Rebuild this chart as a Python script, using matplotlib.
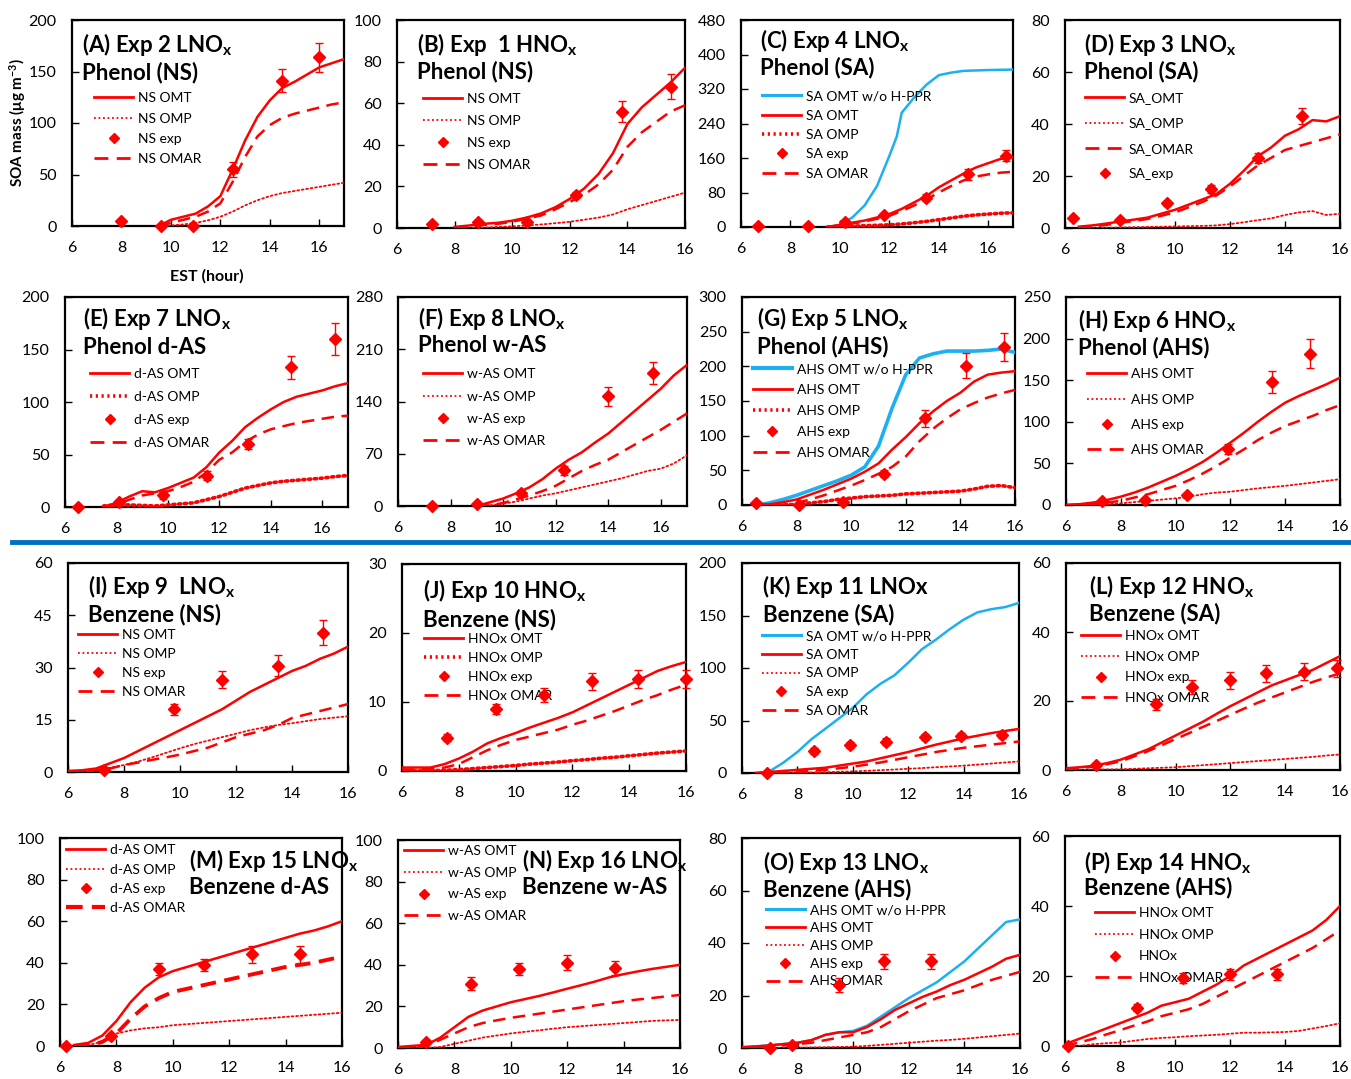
"""Sixteen-panel SOA mass time series: model OMT/OMP/OMAR vs chamber data."""
import matplotlib
matplotlib.use("Agg")
import matplotlib.pyplot as plt
from matplotlib.lines import Line2D

plt.rcParams["font.family"] = ["Lato", "DejaVu Sans"]
plt.rcParams["mathtext.fontset"] = "custom"
plt.rcParams["mathtext.rm"] = "Lato"
plt.rcParams["mathtext.bf"] = "Lato:bold"
plt.rcParams["mathtext.default"] = "regular"

RED = "#ff0000"
BLUE = "#1cb0f0"
SEP = "#0070c0"
W, H = 1351, 1079

# ---- model time grids (EST hour) ----
T6_16 = [6.0, 6.5, 7.0, 7.5, 8.0, 8.5, 9.0, 9.5, 10.0, 10.5, 11.0, 11.5,
         12.0, 12.5, 13.0, 13.5, 14.0, 14.5, 15.0, 15.5, 16.0]
T65_16 = [6.5, 7.0, 7.5, 8.0, 8.5, 9.0, 9.5, 10.0, 10.5, 11.0, 11.5,
          12.0, 12.5, 13.0, 13.5, 14.0, 14.5, 15.0, 15.5, 16.0]
T8_16 = [8.0, 8.5, 9.0, 9.5, 10.0, 10.5, 11.0, 11.5, 12.0, 12.5, 13.0,
         13.5, 14.0, 14.5, 15.0, 15.5, 16.0]
T95_17 = [9.5, 10.0, 10.5, 11.0, 11.5, 12.0, 12.5, 13.0, 13.5, 14.0, 14.5,
          15.0, 15.5, 16.0, 16.5, 17.0]
T75_17 = [7.5, 8.0, 8.5, 9.0, 9.5, 10.0, 10.5, 11.0, 11.5, 12.0, 12.5, 13.0,
          13.5, 14.0, 14.5, 15.0, 15.5, 16.0, 16.5, 17.0]
T9_17 = [9.0, 9.5, 10.0, 10.5, 11.0, 11.5, 12.0, 12.5, 13.0, 13.5, 14.0,
         14.5, 15.0, 15.5, 16.0, 16.5, 17.0]

# ---- (A) Exp 2, phenol NS ----
a_omt = [0, 6, 9, 12, 19, 29, 55, 83, 106, 122, 134, 140, 147, 154, 158, 162]
a_omar = [0, 3, 6, 9, 14, 22, 43, 67, 87, 98, 105, 109, 112, 115, 118, 120]
a_omp = [0, 0.5, 1.5, 3, 5.5, 9, 14, 20, 25, 29, 32, 34, 36, 38, 40, 42]
a_et = [8.0, 9.6, 10.9, 12.5, 14.5, 16.0]
a_ey = [5, 0, 0, 55, 141, 164]
a_ee = [0, 0, 0, 7, 11, 14]

# ---- (B) Exp 1, phenol NS ----
b_omt = [0.5, 1.2, 2, 2.5, 3.5, 5, 7, 10, 14, 19, 26, 36, 50, 58, 64, 70, 77]
b_omar = [0.3, 0.8, 1.5, 2, 3, 4.5, 6, 9, 12.5, 16, 21, 28, 39, 46, 51, 56, 59]
b_omp = [0, 0, 0.2, 0.5, 0.8, 1.2, 1.7, 2.3, 3, 4, 5, 6.5, 9, 11, 13, 15, 17]
b_et = [7.2, 8.8, 10.5, 12.2, 13.8, 15.5]
b_ey = [2, 3, 3, 16, 56, 68]
b_ee = [0, 1, 1, 1.5, 5, 6]

# ---- (C) Exp 4, phenol SA ----
c_omt = [0, 5, 10, 15, 22, 30, 42, 57, 72, 92, 108, 124, 138, 148, 158, 162]
c_omar = [0, 3, 8, 13, 19, 26, 37, 50, 64, 80, 95, 108, 117, 122, 126, 128]
c_omp = [0, 1, 2, 3, 4, 5, 7, 10, 13, 17, 21, 25, 28, 30, 32, 33]
c_blue_t = [9.5, 10.0, 10.5, 11.0, 11.5, 12.0, 12.3, 12.5, 13.0, 13.5, 14.0,
            14.5, 15.0, 16.0, 17.0]
c_blue = [0, 5, 22, 50, 95, 165, 210, 265, 300, 330, 352, 358, 362, 364, 365]
c_et = [6.7, 8.7, 10.2, 11.8, 13.5, 15.2, 16.7]
c_ey = [2, 2, 12, 28, 68, 122, 165]
c_ee = [0, 0, 3, 5, 8, 12, 13]

# ---- (D) Exp 3, phenol SA ----
d_omt = [0.5, 1, 1.7, 2.5, 3.2, 4, 5.5, 7, 9, 11, 13, 17, 22, 27.5, 31, 35.5,
         38, 41.5, 41, 43]
d_omar = [0.3, 0.6, 1.2, 2, 2.7, 3.5, 4.7, 6, 8, 10, 12.5, 16, 20, 24, 27, 30,
          31.5, 33, 34.5, 36]
d_omp = [0, 0, 0.1, 0.2, 0.3, 0.4, 0.5, 0.6, 0.7, 0.8, 1, 1.5, 2.2, 3, 3.7, 5,
         6, 6.5, 5, 5.5]
d_et = [6.3, 8.0, 9.7, 11.3, 13.0, 14.6]
d_ey = [4, 3, 9.5, 15, 27, 43]
d_ee = [0.5, 0.5, 1, 1.5, 2, 3]

# ---- (E) Exp 7, phenol d-AS ----
e_omt = [0, 4, 10, 15, 14, 18, 23, 28, 38, 52, 63, 76, 85, 93, 100, 105, 108,
         111, 115, 118]
e_omar = [0, 2, 7, 11, 13, 15, 19, 24, 33, 45, 52, 62, 69, 74, 77, 80, 82, 84,
          86, 87]
e_omp = [1, 2, 2, 1.5, 1, 2, 3, 4, 7, 10, 14, 18, 20.5, 23, 24.5, 25.5, 26.5,
         27.5, 29, 30]
e_et = [6.5, 8.1, 9.8, 11.5, 13.1, 14.8, 16.5]
e_ey = [0, 5, 11, 30, 60, 133, 160]
e_ee = [0, 2, 3, 4, 5, 11, 15]

# ---- (F) Exp 8, phenol w-AS ----
f_omt = [0, 5, 10, 17, 25, 36, 50, 62, 72, 85, 97, 112, 127, 142, 157, 175, 189]
f_omar = [0, 1, 4, 9, 14, 20, 27, 37, 47, 55, 62, 72, 82, 92, 102, 113, 124]
f_omp = [0, 1, 3, 6, 10, 14, 17, 21, 25, 29, 33, 37, 42, 47, 50, 57, 68]
f_et = [7.3, 9.0, 10.7, 12.3, 14.0, 15.7]
f_ey = [0, 3, 18, 48, 147, 178]
f_ee = [0, 2, 4, 6, 13, 15]

# ---- (G) Exp 5, phenol AHS ----
g_blue = [0, 3, 8, 14, 21, 28, 35, 43, 55, 85, 140, 188, 212, 218, 222, 222,
          222, 223, 225, 220]
g_omt = [0, 1, 4, 8, 15, 22, 30, 38, 48, 60, 80, 98, 118, 135, 150, 162, 178,
         188, 191, 193]
g_omar = [0, 0, 0, 3, 8, 14, 21, 28, 36, 45, 55, 70, 92, 110, 125, 138, 147,
          155, 161, 166]
g_omp = [0, 0, 0, 1, 3, 5, 8, 10, 12, 13, 14, 16, 17, 18, 19, 20, 23, 27, 28, 25]
g_et = [6.5, 8.1, 9.7, 11.2, 12.7, 14.2, 15.6]
g_ey = [3, 0, 5, 45, 125, 201, 228]
g_ee = [2, 2, 4, 5, 12, 18, 20]

# ---- (H) Exp 6, phenol AHS ----
h_omt = [0, 1, 3, 6, 10, 15, 21, 28, 35, 43, 52, 63, 75, 87, 100, 112, 123, 131,
         138, 145, 153]
h_omar = [0, 0.5, 1, 3, 5, 9, 13, 18, 23, 30, 38, 47, 57, 67, 78, 87, 95, 101,
          107, 114, 120]
h_omp = [0, 0, 0.5, 1, 2, 3.5, 5, 6.5, 8, 10, 13, 15, 16, 18, 20, 21.5, 23, 25,
         27, 29, 31]
h_et = [7.3, 8.9, 10.4, 11.9, 13.5, 14.9]
h_ey = [5, 6, 12, 67, 148, 182]
h_ee = [2, 2, 3, 6, 13, 17]

# ---- (I) Exp 9, benzene NS ----
i_omt = [0.3, 0.5, 1, 2.5, 4, 6, 8, 10, 12, 14, 16, 18, 20.5, 23, 25, 27, 29,
         30.5, 32.5, 34, 36]
i_omar = [0, 0, 0.5, 1, 2, 2.7, 3.5, 4.2, 5, 6, 7, 8.5, 10, 11, 12, 13.5, 15.5,
          16.5, 17.5, 18.5, 19.5]
i_omp = [0, 0, 0.5, 1.2, 2, 3, 4.2, 5.5, 6.8, 8, 9, 10, 11, 12, 12.8, 13.5, 14,
         14.6, 15.2, 15.6, 16]
i_et = [7.3, 9.8, 11.5, 13.5, 15.1]
i_ey = [0.5, 18, 26.5, 30.5, 40]
i_ee = [0.5, 1.5, 2.5, 3, 3.5]

# ---- (J) Exp 10, benzene NS ----
j_omt = [0.5, 0.5, 0.5, 1, 1.8, 2.8, 4, 4.8, 5.5, 6.3, 7, 7.7, 8.5, 9.5, 10.5,
         11.5, 12.5, 13.5, 14.5, 15.2, 15.8]
j_omar = [0.2, 0.2, 0.3, 0.5, 1, 2, 3, 3.8, 4.5, 5, 5.5, 6, 6.7, 7.3, 8, 8.7,
          9.5, 10.3, 11, 11.8, 12.5]
j_omp = [0, 0, 0.05, 0.1, 0.2, 0.35, 0.5, 0.65, 0.8, 1, 1.15, 1.3, 1.5, 1.65,
         1.85, 2, 2.2, 2.4, 2.6, 2.75, 2.9]
j_et = [7.6, 9.3, 11.0, 12.7, 14.3, 16.0]
j_ey = [4.8, 9, 11, 13, 13.3, 13.4]
j_ee = [0.5, 0.7, 1, 1.2, 1.3, 1.3]

# ---- (K) Exp 11, benzene SA ----
k_omt = [0, 1, 2, 3, 4, 5, 7, 9, 11, 14, 17, 20, 23.5, 27, 30, 33, 35.5, 38, 40, 42]
k_omar = [0, 0.5, 1, 1.5, 2.2, 3, 4.5, 6, 8, 10, 12.5, 15, 17.5, 20, 22, 24,
          25.5, 27, 28.5, 30]
k_omp = [0, 0, 0.1, 0.2, 0.5, 0.8, 1.1, 1.5, 2.1, 2.7, 3.3, 4, 4.7, 5.5, 6.2, 7,
         8, 9, 10, 11]
k_blue_t = [6.9, 7.5, 8.0, 8.5, 9.0, 9.5, 10.0, 10.5, 11.0, 11.5, 12.0, 12.5,
            13.0, 13.5, 14.0, 14.5, 15.0, 15.5, 16.0]
k_blue = [0, 10, 20, 32, 42, 52, 62, 75, 85, 93, 105, 118, 127, 137, 146, 153,
          156, 158, 162]
k_et = [6.9, 8.6, 9.9, 11.2, 12.6, 13.9, 15.4]
k_ey = [0, 21, 27, 30, 34, 35, 36]
k_ee = [0, 3, 3, 3, 3, 3, 3]

# ---- (L) Exp 12, benzene SA ----
l_omt = [0.5, 0.8, 1.2, 2, 3, 4.5, 6, 8, 10, 12, 14, 16.3, 18.5, 20.5, 22.5,
         24.5, 26, 27.5, 29, 31, 33]
l_omar = [0.3, 0.5, 1, 1.7, 2.5, 4, 5.5, 7.2, 9, 10.7, 12.5, 14.2, 16, 17.8,
          19.5, 21, 22.5, 24, 25.5, 26.8, 28]
l_omp = [0, 0, 0.1, 0.15, 0.2, 0.35, 0.5, 0.65, 0.8, 1.1, 1.4, 1.7, 2, 2.3, 2.6,
         2.9, 3.2, 3.5, 3.8, 4.2, 4.5]
l_et = [7.1, 9.3, 10.6, 12.0, 13.3, 14.7, 15.9]
l_ey = [1.5, 19, 24, 26, 28, 28.5, 29.5]
l_ee = [0.5, 1.5, 2, 2.5, 2.5, 2.5, 2.5]

# ---- (M) Exp 15, benzene d-AS ----
m_omt = [0.5, 1.5, 5, 12, 21, 28, 33, 36, 38, 40, 42, 44, 46, 48, 50, 52, 54,
         55.5, 57.5, 60]
m_omar = [0, 0, 2, 6, 13, 19, 23, 26, 27.5, 29, 30.5, 32, 33.5, 35, 36.5, 38,
          39, 40, 41.5, 43]
m_omp = [0, 0.5, 2, 6, 7.5, 8.5, 9, 10, 10.5, 11, 11.5, 12, 12.5, 13, 13.5, 14,
         14.5, 15, 15.5, 16]
m_et = [6.2, 7.8, 9.5, 11.1, 12.8, 14.5]
m_ey = [0, 5, 37, 39, 44, 44]
m_ee = [0, 1, 3, 3, 4, 4]

# ---- (N) Exp 16, benzene w-AS ----
n_omt = [0.5, 1, 1.5, 5, 10, 15, 18, 20, 22, 23.5, 25, 26.7, 28.5, 30.2, 32, 34,
         35.5, 36.8, 38, 39, 40]
n_omar = [0, 0, 1, 4, 7, 10, 12, 13.3, 14.5, 15.5, 16.5, 17.5, 18.5, 19.5, 20.5,
          21.5, 22.5, 23.3, 24, 24.8, 25.5]
n_omp = [0, 0, 0, 0.5, 2, 3.5, 5, 6, 7, 7.8, 8.5, 9.3, 10, 10.5, 11, 11.5, 12,
         12.5, 13, 13.3, 13.5]
n_et = [7.0, 8.6, 10.3, 12.0, 13.7]
n_ey = [3, 31, 38, 41, 38.5]
n_ee = [1, 3, 3, 3.5, 3.5]

# ---- (O) Exp 13, benzene AHS ----
o_blue = [0.3, 0.6, 1, 1.5, 2, 3, 5, 6, 6.5, 8.5, 12, 15.5, 19, 22, 25, 29, 33,
          38, 43, 48, 49]
o_omt = [0.3, 0.6, 1, 1.5, 2, 3, 5, 6, 6, 8, 11, 14.5, 17, 19.5, 21.5, 24, 26,
         28.5, 31, 34, 35.5]
o_omar = [0, 0.2, 0.5, 1, 1.5, 2, 3, 4, 5, 6, 8, 11, 14, 16.5, 19, 20.5, 22, 24,
          26, 27.5, 29]
o_omp = [0, 0, 0, 0.05, 0.1, 0.2, 0.3, 0.4, 0.5, 0.8, 1.2, 1.6, 2, 2.4, 2.8,
         3.1, 3.5, 4, 4.5, 5, 5.5]
o_et = [7.0, 7.8, 9.5, 11.1, 12.8]
o_ey = [0, 1, 24, 33, 33]
o_ee = [0.5, 0.5, 2.5, 3, 3]

# ---- (P) Exp 14, benzene AHS ----
p_omt = [0.5, 2, 3.5, 5, 6.5, 8, 9.5, 11.5, 12.5, 13.5, 15.5, 17.5, 20, 23, 25,
         27, 29, 31, 33, 36, 40]
p_omar = [0, 1, 2, 3.3, 4.5, 5.8, 7, 8.5, 9.5, 10.5, 12, 14, 16, 18, 20, 22, 24,
          26, 28, 30.5, 33]
p_omp = [0, 0, 0.5, 0.8, 1, 1.5, 2, 2.3, 2.5, 2.8, 3, 3.2, 3.5, 3.8, 3.8, 3.9,
         4, 4.3, 5, 5.7, 6.5]
p_et = [6.1, 8.6, 10.3, 12.0, 13.7]
p_ey = [0, 11, 19.5, 20.5, 20.5]
p_ee = [0.5, 1, 1.5, 1.5, 1.5]

STD = ["omt", "omp", "exp", "omar"]
STD5 = ["blue", "omt", "omp", "exp", "omar"]

def labels(pre, order, sep=" "):
    names = {"blue": "OMT w/o H-PPR", "omt": "OMT", "omp": "OMP", "exp": "exp", "omar": "OMAR"}
    return [f"{pre}{sep}{names[k]}" for k in order]

# box = axes frame in pixels (left, top, right, bottom); tpos = (x, y1, y2) px;
# leg = (handle left x, first row y, row spacing) px
panels = [
    dict(box=(72, 20, 344, 226), xmax=17, ymax=200, ystep=50, t=T95_17,
         omt=a_omt, omar=a_omar, omp=a_omp, et=a_et, ey=a_ey, ee=a_ee,
         title=("(A) Exp 2 LNO$_x$", "Phenol (NS)"), tpos=(82, 44, 73),
         order=STD, labels=labels("NS", STD), leg=(94, 98, 20)),
    dict(box=(397, 20, 685, 228), xmax=16, ymax=100, ystep=20, t=T8_16,
         omt=b_omt, omar=b_omar, omp=b_omp, et=b_et, ey=b_ey, ee=b_ee,
         title=("(B) Exp  1 HNO$_x$", "Phenol (NS)"), tpos=(417, 44, 72),
         order=STD, labels=labels("NS", STD), leg=(423, 99, 21.5)),
    dict(box=(741, 20, 1013, 227), xmax=17, ymax=480, ystep=80, t=T95_17,
         omt=c_omt, omar=c_omar, omp=c_omp, et=c_et, ey=c_ey, ee=c_ee,
         blue_t=c_blue_t, blue=c_blue, thick_omp=True,
         title=("(C) Exp 4 LNO$_x$", "Phenol (SA)"), tpos=(760, 40, 68),
         order=STD5, labels=labels("SA", STD5), leg=(762, 96, 19)),
    dict(box=(1065, 20, 1340, 228), xmax=16, ymax=80, ystep=20, t=T65_16,
         omt=d_omt, omar=d_omar, omp=d_omp, et=d_et, ey=d_ey, ee=d_ee,
         title=("(D) Exp 3 LNO$_x$", "Phenol (SA)"), tpos=(1084, 44, 72),
         order=["omt", "omp", "omar", "exp"],
         labels=labels("SA", ["omt", "omp", "omar", "exp"], sep="_"), leg=(1085, 98, 25)),
    dict(box=(65, 297, 348, 507), xmax=17, ymax=200, ystep=50, t=T75_17,
         omt=e_omt, omar=e_omar, omp=e_omp, et=e_et, ey=e_ey, ee=e_ee, thick_omp=True,
         title=("(E) Exp 7 LNO$_x$", "Phenol d-AS"), tpos=(83, 319, 347),
         order=STD, labels=labels("d-AS", STD), leg=(90, 374, 22.7)),
    dict(box=(398, 297, 687, 506), xmax=17, ymax=280, ystep=70, t=T9_17,
         omt=f_omt, omar=f_omar, omp=f_omp, et=f_et, ey=f_ey, ee=f_ee,
         title=("(F) Exp 8 LNO$_x$", "Phenol w-AS"), tpos=(418, 318, 346),
         order=STD, labels=labels("w-AS", STD), leg=(423, 374, 22)),
    dict(box=(742, 297, 1015, 505), xmax=16, ymax=300, ystep=50, t=T65_16,
         omt=g_omt, omar=g_omar, omp=g_omp, et=g_et, ey=g_ey, ee=g_ee,
         blue_t=T65_16, blue=g_blue, blue_lw=2.6, thick_omp=True,
         title=("(G) Exp 5 LNO$_x$", "Phenol (AHS)"), tpos=(757, 318, 347),
         order=STD5, labels=labels("AHS", STD5), leg=(753, 369, 20.7)),
    dict(box=(1066, 297, 1340, 505), xmax=16, ymax=250, ystep=50, t=T6_16,
         omt=h_omt, omar=h_omar, omp=h_omp, et=h_et, ey=h_ey, ee=h_ee,
         title=("(H) Exp 6 HNO$_x$", "Phenol (AHS)"), tpos=(1078, 320, 348),
         order=STD, labels=labels("AHS", STD), leg=(1087, 374, 25)),
    dict(box=(68, 563, 348, 772), xmax=16, ymax=60, ystep=15, t=T6_16,
         omt=i_omt, omar=i_omar, omp=i_omp, et=i_et, ey=i_ey, ee=i_ee,
         title=("(I) Exp 9  LNO$_x$", "Benzene (NS)"), tpos=(88, 587, 615),
         order=STD, labels=labels("NS", STD), leg=(78, 635, 18.7)),
    dict(box=(402, 564, 686, 771), xmax=16, ymax=30, ystep=10, t=T6_16,
         omt=j_omt, omar=j_omar, omp=j_omp, et=j_et, ey=j_ey, ee=j_ee, thick_omp=True,
         title=("(J) Exp 10 HNO$_x$", "Benzene (NS)"), tpos=(423, 591, 620),
         order=STD, labels=labels("HNOx", STD), leg=(424, 639, 18.7)),
    dict(box=(742, 563, 1019, 773), xmax=16, ymax=200, ystep=50, t=T65_16,
         omt=k_omt, omar=k_omar, omp=k_omp, et=k_et, ey=k_ey, ee=k_ee,
         blue_t=k_blue_t, blue=k_blue,
         title=("(K) Exp 11 LNOx", "Benzene (SA)"), tpos=(763, 587, 615),
         order=STD5, labels=labels("SA", STD5), leg=(762, 636, 18.3)),
    dict(box=(1066, 563, 1340, 770), xmax=16, ymax=60, ystep=20, t=T6_16,
         omt=l_omt, omar=l_omar, omp=l_omp, et=l_et, ey=l_ey, ee=l_ee,
         title=("(L) Exp 12 HNO$_x$", "Benzene (SA)"), tpos=(1089, 587, 614),
         order=STD, labels=labels("HNOx", STD), leg=(1081, 636, 20.3)),
    dict(box=(60, 838, 342, 1046), xmax=16, ymax=100, ystep=20, t=T65_16,
         omt=m_omt, omar=m_omar, omp=m_omp, et=m_et, ey=m_ey, ee=m_ee, omar_lw=2.8,
         title=("(M) Exp 15 LNO$_x$", "Benzene d-AS"), tpos=(189, 860, 887),
         order=STD, labels=labels("d-AS", STD), leg=(66, 850, 19)),
    dict(box=(398, 840, 680, 1048), xmax=16, ymax=100, ystep=20, t=T6_16,
         omt=n_omt, omar=n_omar, omp=n_omp, et=n_et, ey=n_ey, ee=n_ee,
         title=("(N) Exp 16 LNO$_x$", "Benzene w-AS"), tpos=(522, 860, 887),
         order=STD, labels=labels("w-AS", STD), leg=(404, 851, 21.3)),
    dict(box=(742, 838, 1020, 1048), xmax=16, ymax=80, ystep=20, t=T6_16,
         omt=o_omt, omar=o_omar, omp=o_omp, et=o_et, ey=o_ey, ee=o_ee,
         blue_t=T6_16, blue=o_blue,
         title=("(O) Exp 13 LNO$_x$", "Benzene (AHS)"), tpos=(763, 862, 890),
         order=STD5, labels=labels("AHS", STD5), leg=(766, 910, 17.5)),
    dict(box=(1065, 836, 1340, 1046), xmax=16, ymax=60, ystep=20, t=T6_16,
         omt=p_omt, omar=p_omar, omp=p_omp, et=p_et, ey=p_ey, ee=p_ee,
         title=("(P) Exp 14 HNO$_x$", "Benzene (AHS)"), tpos=(1084, 862, 888),
         order=STD, labels=["HNOx OMT", "HNOx OMP", "HNOx", "HNOx OMAR"],
         leg=(1095, 913, 21.3)),
]

fig = plt.figure(figsize=(W / 100, H / 100), dpi=100)
fig.patch.set_facecolor("white")

LEG_FS = 10
LEG_PX = LEG_FS * 100 / 72
ROW = 0.84  # legend row height in font-size units (measured)

for p in panels:
    l, t, r, b = p["box"]
    ax = fig.add_axes([l / W, 1 - b / H, (r - l) / W, (b - t) / H])
    omp_lw = 2.6 if p.get("thick_omp") else 1.3
    omp_ls = (0, (0.6, 1.0)) if p.get("thick_omp") else (0, (1, 1.5))
    omar_lw = p.get("omar_lw", 1.8)
    omar_dash = (5, 3) if omar_lw < 2 else (4, 2.2)
    blue_lw = p.get("blue_lw", 1.8)

    if "blue" in p:
        ax.plot(p["blue_t"], p["blue"], color=BLUE, lw=blue_lw, zorder=3)
    ax.plot(p["t"], p["omt"], color=RED, lw=1.8, zorder=3)
    ax.plot(p["t"], p["omar"], color=RED, lw=omar_lw, dashes=omar_dash, zorder=3)
    ax.plot(p["t"], p["omp"], color=RED, lw=omp_lw, linestyle=omp_ls,
            dash_capstyle="round", zorder=3)
    ax.errorbar(p["et"], p["ey"], yerr=p["ee"], fmt="D", color=RED, ms=6,
                capsize=3, elinewidth=1, capthick=1, clip_on=False, zorder=5)

    ax.set_xlim(6, p["xmax"])
    ax.set_ylim(0, p["ymax"])
    ax.set_xticks(range(6, 17, 2))
    ax.set_yticks(range(0, p["ymax"] + 1, p["ystep"]))
    ax.tick_params(labelsize=11.5, length=5, width=1, direction="in", pad=11)
    for s in ax.spines.values():
        s.set_linewidth(1.6)
        s.set_color("black")

    # panel titles (two bold lines)
    tx, ty1, ty2 = p["tpos"]
    for txt, ty in ((p["title"][0], ty1), (p["title"][1], ty2)):
        ax.text((tx - l) / (r - l), (b - ty) / (b - t), txt, transform=ax.transAxes,
                fontsize=16, fontweight="bold", ha="left", va="center", zorder=6)

    # legend
    kinds = {
        "blue": Line2D([], [], color=BLUE, lw=blue_lw + 0.4),
        "omt": Line2D([], [], color=RED, lw=2),
        "omp": Line2D([], [], color=RED, lw=omp_lw, linestyle=omp_ls),
        "exp": Line2D([], [], color=RED, marker="D", ms=5, linestyle="none"),
        "omar": Line2D([], [], color=RED, lw=omar_lw + 0.2, dashes=omar_dash),
    }
    hx, hy, hs = p["leg"]
    row = ROW * LEG_PX
    ax.legend([kinds[k] for k in p["order"]], p["labels"], loc="upper left",
              bbox_to_anchor=((hx - l) / (r - l), (b - (hy - row / 2)) / (b - t)),
              frameon=False, fontsize=LEG_FS, borderpad=0, borderaxespad=0,
              handlelength=39 / LEG_PX, handletextpad=0.35,
              labelspacing=hs / LEG_PX - ROW)

# shared axis labels on panel A
fig.text(18 / W, 1 - 122 / H, "SOA mass (μg m$^{-3}$)", rotation=90,
         fontsize=11, fontweight="bold", ha="center", va="center")
fig.text(207 / W, 1 - 276 / H, "EST (hour)", fontsize=11.5, fontweight="bold",
         ha="center", va="center")

# blue separator between phenol and benzene blocks
fig.add_artist(Line2D([12 / W, 1.0], [1 - 542 / H, 1 - 542 / H], color=SEP,
                      lw=3.5, transform=fig.transFigure))

fig.savefig("out.png", dpi=100, facecolor="white")
